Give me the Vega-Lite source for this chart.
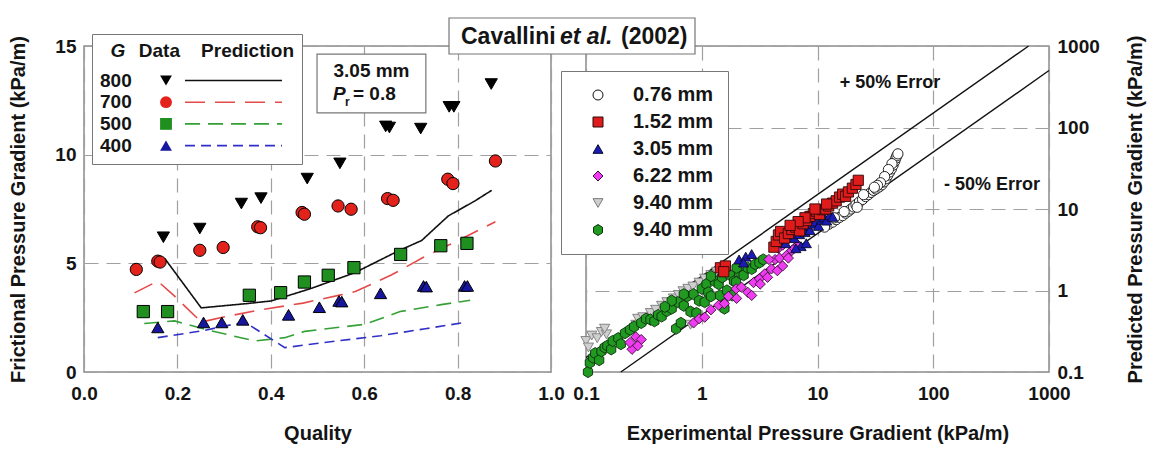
{
  "$schema": "https://vega.github.io/schema/vega-lite/v6.json",
  "padding": {"left": 8, "top": 16, "right": 0, "bottom": 0},
  "bounds": "flush",
  "spacing": 35,
  "resolve": {
    "scale": {"x": "independent", "y": "independent", "fill": "independent", "stroke": "independent", "shape": "independent", "strokeDash": "independent"},
    "legend": {"fill": "independent", "stroke": "independent", "shape": "independent", "strokeDash": "independent"}
  },
  "config": {
    "font": "Liberation Sans",
    "view": {"stroke": "#8c8c8c", "strokeWidth": 1.5},
    "axis": {
      "labelFont": "Liberation Sans", "labelFontSize": 19, "labelFontWeight": "bold", "labelColor": "#141414",
      "titleFont": "Liberation Sans", "titleFontSize": 20, "titleFontWeight": "bold", "titleColor": "#141414",
      "domain": false, "ticks": false, "grid": true, "gridColor": "#a0a0a0", "gridDash": [14, 8], "gridWidth": 1.2,
      "labelFlush": false, "labelOverlap": false
    },
    "legend": {"labelFont": "Liberation Sans", "titleFont": "Liberation Sans"},
    "text": {"font": "Liberation Sans", "color": "#141414"}
  },
  "datasets": {
    "quality_measured": [
      {"G": "800", "quality": 0.17, "gradient": 6.2},
      {"G": "800", "quality": 0.248, "gradient": 6.6},
      {"G": "800", "quality": 0.337, "gradient": 7.75},
      {"G": "800", "quality": 0.379, "gradient": 8.0},
      {"G": "800", "quality": 0.478, "gradient": 8.9},
      {"G": "800", "quality": 0.548, "gradient": 9.6},
      {"G": "800", "quality": 0.646, "gradient": 11.3},
      {"G": "800", "quality": 0.654, "gradient": 11.25},
      {"G": "800", "quality": 0.721, "gradient": 11.2},
      {"G": "800", "quality": 0.782, "gradient": 12.2},
      {"G": "800", "quality": 0.792, "gradient": 12.2},
      {"G": "800", "quality": 0.872, "gradient": 13.25},
      {"G": "700", "quality": 0.112, "gradient": 4.72},
      {"G": "700", "quality": 0.158, "gradient": 5.1},
      {"G": "700", "quality": 0.163, "gradient": 5.06},
      {"G": "700", "quality": 0.248, "gradient": 5.6},
      {"G": "700", "quality": 0.298, "gradient": 5.73},
      {"G": "700", "quality": 0.372, "gradient": 6.68},
      {"G": "700", "quality": 0.378, "gradient": 6.64},
      {"G": "700", "quality": 0.467, "gradient": 7.34},
      {"G": "700", "quality": 0.472, "gradient": 7.26},
      {"G": "700", "quality": 0.544, "gradient": 7.64},
      {"G": "700", "quality": 0.572, "gradient": 7.49},
      {"G": "700", "quality": 0.65, "gradient": 7.98},
      {"G": "700", "quality": 0.662, "gradient": 7.9},
      {"G": "700", "quality": 0.779, "gradient": 8.87},
      {"G": "700", "quality": 0.79, "gradient": 8.67},
      {"G": "700", "quality": 0.881, "gradient": 9.71},
      {"G": "500", "quality": 0.127, "gradient": 2.78},
      {"G": "500", "quality": 0.179, "gradient": 2.78},
      {"G": "500", "quality": 0.354, "gradient": 3.53},
      {"G": "500", "quality": 0.421, "gradient": 3.65},
      {"G": "500", "quality": 0.472, "gradient": 4.14},
      {"G": "500", "quality": 0.523, "gradient": 4.45},
      {"G": "500", "quality": 0.578, "gradient": 4.8},
      {"G": "500", "quality": 0.678, "gradient": 5.41},
      {"G": "500", "quality": 0.764, "gradient": 5.81},
      {"G": "500", "quality": 0.82, "gradient": 5.92},
      {"G": "400", "quality": 0.158, "gradient": 2.05},
      {"G": "400", "quality": 0.256, "gradient": 2.28},
      {"G": "400", "quality": 0.295, "gradient": 2.28},
      {"G": "400", "quality": 0.34, "gradient": 2.4},
      {"G": "400", "quality": 0.438, "gradient": 2.63},
      {"G": "400", "quality": 0.504, "gradient": 2.98},
      {"G": "400", "quality": 0.546, "gradient": 3.27},
      {"G": "400", "quality": 0.552, "gradient": 3.24},
      {"G": "400", "quality": 0.635, "gradient": 3.62},
      {"G": "400", "quality": 0.727, "gradient": 3.96},
      {"G": "400", "quality": 0.733, "gradient": 3.93},
      {"G": "400", "quality": 0.815, "gradient": 3.96},
      {"G": "400", "quality": 0.821, "gradient": 3.96}
    ],
    "quality_prediction": [
      {"G": "800", "quality": 0.173, "gradient": 5.22},
      {"G": "800", "quality": 0.251, "gradient": 2.95},
      {"G": "800", "quality": 0.345, "gradient": 3.14},
      {"G": "800", "quality": 0.401, "gradient": 3.27},
      {"G": "800", "quality": 0.487, "gradient": 3.85},
      {"G": "800", "quality": 0.58, "gradient": 4.57},
      {"G": "800", "quality": 0.673, "gradient": 5.57},
      {"G": "800", "quality": 0.723, "gradient": 6.05},
      {"G": "800", "quality": 0.78, "gradient": 7.18},
      {"G": "800", "quality": 0.837, "gradient": 7.87},
      {"G": "800", "quality": 0.873, "gradient": 8.36},
      {"G": "700", "quality": 0.108, "gradient": 3.64},
      {"G": "700", "quality": 0.158, "gradient": 4.18},
      {"G": "700", "quality": 0.194, "gradient": 3.49},
      {"G": "700", "quality": 0.251, "gradient": 2.3},
      {"G": "700", "quality": 0.304, "gradient": 2.55},
      {"G": "700", "quality": 0.377, "gradient": 2.86},
      {"G": "700", "quality": 0.469, "gradient": 3.17},
      {"G": "700", "quality": 0.55, "gradient": 3.55},
      {"G": "700", "quality": 0.581, "gradient": 3.7},
      {"G": "700", "quality": 0.658, "gradient": 4.46},
      {"G": "700", "quality": 0.727, "gradient": 5.28},
      {"G": "700", "quality": 0.781, "gradient": 5.84},
      {"G": "700", "quality": 0.881, "gradient": 6.91},
      {"G": "500", "quality": 0.129, "gradient": 2.23},
      {"G": "500", "quality": 0.194, "gradient": 2.35},
      {"G": "500", "quality": 0.258, "gradient": 1.97},
      {"G": "500", "quality": 0.365, "gradient": 1.43},
      {"G": "500", "quality": 0.43, "gradient": 1.58},
      {"G": "500", "quality": 0.473, "gradient": 1.87},
      {"G": "500", "quality": 0.6, "gradient": 2.19},
      {"G": "500", "quality": 0.677, "gradient": 2.78},
      {"G": "500", "quality": 0.765, "gradient": 3.1},
      {"G": "500", "quality": 0.827, "gradient": 3.3},
      {"G": "400", "quality": 0.158, "gradient": 1.58},
      {"G": "400", "quality": 0.254, "gradient": 1.9},
      {"G": "400", "quality": 0.344, "gradient": 2.3},
      {"G": "400", "quality": 0.43, "gradient": 1.12},
      {"G": "400", "quality": 0.504, "gradient": 1.33},
      {"G": "400", "quality": 0.581, "gradient": 1.53},
      {"G": "400", "quality": 0.635, "gradient": 1.67},
      {"G": "400", "quality": 0.731, "gradient": 1.99},
      {"G": "400", "quality": 0.819, "gradient": 2.29}
    ],
    "error_bounds": [
      {"band": "+50%", "experimental": 0.1, "predicted": 0.15},
      {"band": "+50%", "experimental": 666.7, "predicted": 1000},
      {"band": "-50%", "experimental": 0.2, "predicted": 0.1},
      {"band": "-50%", "experimental": 1000, "predicted": 500}
    ],
    "tube_data": [
      {"series": "0.76 mm", "experimental": 12.5, "predicted": 6.5},
      {"series": "0.76 mm", "experimental": 13.5, "predicted": 6.9},
      {"series": "0.76 mm", "experimental": 14.5, "predicted": 7.4},
      {"series": "0.76 mm", "experimental": 15.5, "predicted": 7.9},
      {"series": "0.76 mm", "experimental": 16.5, "predicted": 8.3},
      {"series": "0.76 mm", "experimental": 17.5, "predicted": 8.9},
      {"series": "0.76 mm", "experimental": 18.5, "predicted": 9.4},
      {"series": "0.76 mm", "experimental": 19.5, "predicted": 10.0},
      {"series": "0.76 mm", "experimental": 20.5, "predicted": 10.6},
      {"series": "0.76 mm", "experimental": 21.5, "predicted": 11.3},
      {"series": "0.76 mm", "experimental": 23.0, "predicted": 12.2},
      {"series": "0.76 mm", "experimental": 24.5, "predicted": 13.1},
      {"series": "0.76 mm", "experimental": 26.0, "predicted": 14.2},
      {"series": "0.76 mm", "experimental": 27.5, "predicted": 15.0},
      {"series": "0.76 mm", "experimental": 29.0, "predicted": 16.0},
      {"series": "0.76 mm", "experimental": 30.5, "predicted": 16.9},
      {"series": "0.76 mm", "experimental": 32.0, "predicted": 17.6},
      {"series": "0.76 mm", "experimental": 34.0, "predicted": 18.6},
      {"series": "0.76 mm", "experimental": 36.0, "predicted": 19.8},
      {"series": "0.76 mm", "experimental": 37.5, "predicted": 21.5},
      {"series": "0.76 mm", "experimental": 39.0, "predicted": 23.5},
      {"series": "0.76 mm", "experimental": 40.5, "predicted": 26.0},
      {"series": "0.76 mm", "experimental": 42.0, "predicted": 28.5},
      {"series": "0.76 mm", "experimental": 43.5, "predicted": 31.0},
      {"series": "0.76 mm", "experimental": 45.0, "predicted": 34.5},
      {"series": "0.76 mm", "experimental": 46.5, "predicted": 38.5},
      {"series": "0.76 mm", "experimental": 47.5, "predicted": 42.0},
      {"series": "0.76 mm", "experimental": 48.5, "predicted": 45.0},
      {"series": "0.76 mm", "experimental": 49.5, "predicted": 47.5},
      {"series": "0.76 mm", "experimental": 44.0, "predicted": 36.0},
      {"series": "0.76 mm", "experimental": 41.0, "predicted": 30.5},
      {"series": "0.76 mm", "experimental": 38.0, "predicted": 25.0},
      {"series": "0.76 mm", "experimental": 35.0, "predicted": 21.0},
      {"series": "0.76 mm", "experimental": 33.0, "predicted": 19.5},
      {"series": "0.76 mm", "experimental": 31.0, "predicted": 18.5},
      {"series": "0.76 mm", "experimental": 22.0, "predicted": 10.5},
      {"series": "0.76 mm", "experimental": 17.0, "predicted": 9.3},
      {"series": "0.76 mm", "experimental": 14.0, "predicted": 7.8},
      {"series": "0.76 mm", "experimental": 11.5, "predicted": 6.0},
      {"series": "0.76 mm", "experimental": 25.0, "predicted": 15.0},
      {"series": "9.40 mm (a)", "experimental": 0.1, "predicted": 0.24},
      {"series": "9.40 mm (a)", "experimental": 0.105, "predicted": 0.2},
      {"series": "9.40 mm (a)", "experimental": 0.112, "predicted": 0.28},
      {"series": "9.40 mm (a)", "experimental": 0.125, "predicted": 0.26},
      {"series": "9.40 mm (a)", "experimental": 0.136, "predicted": 0.31},
      {"series": "9.40 mm (a)", "experimental": 0.15, "predicted": 0.29},
      {"series": "9.40 mm (a)", "experimental": 0.145, "predicted": 0.34},
      {"series": "9.40 mm (a)", "experimental": 0.28, "predicted": 0.45},
      {"series": "9.40 mm (a)", "experimental": 0.31, "predicted": 0.47},
      {"series": "9.40 mm (a)", "experimental": 0.36, "predicted": 0.53},
      {"series": "9.40 mm (a)", "experimental": 0.4, "predicted": 0.58},
      {"series": "9.40 mm (a)", "experimental": 0.45, "predicted": 0.65},
      {"series": "9.40 mm (a)", "experimental": 0.5, "predicted": 0.72},
      {"series": "9.40 mm (a)", "experimental": 0.57, "predicted": 0.8},
      {"series": "9.40 mm (a)", "experimental": 0.63, "predicted": 0.88},
      {"series": "9.40 mm (a)", "experimental": 0.69, "predicted": 0.98},
      {"series": "9.40 mm (a)", "experimental": 0.76, "predicted": 1.05},
      {"series": "9.40 mm (a)", "experimental": 0.84, "predicted": 1.12},
      {"series": "9.40 mm (a)", "experimental": 0.95, "predicted": 1.25},
      {"series": "9.40 mm (a)", "experimental": 1.06, "predicted": 1.4},
      {"series": "9.40 mm (a)", "experimental": 1.2, "predicted": 1.55},
      {"series": "9.40 mm (a)", "experimental": 1.35, "predicted": 1.7},
      {"series": "9.40 mm (a)", "experimental": 1.57, "predicted": 1.84},
      {"series": "9.40 mm (a)", "experimental": 0.8, "predicted": 0.38},
      {"series": "9.40 mm (a)", "experimental": 0.27, "predicted": 0.38},
      {"series": "9.40 mm (b)", "experimental": 0.104, "predicted": 0.1},
      {"series": "9.40 mm (b)", "experimental": 0.108, "predicted": 0.13},
      {"series": "9.40 mm (b)", "experimental": 0.115, "predicted": 0.15},
      {"series": "9.40 mm (b)", "experimental": 0.12, "predicted": 0.17},
      {"series": "9.40 mm (b)", "experimental": 0.13, "predicted": 0.14},
      {"series": "9.40 mm (b)", "experimental": 0.136, "predicted": 0.18},
      {"series": "9.40 mm (b)", "experimental": 0.145, "predicted": 0.2},
      {"series": "9.40 mm (b)", "experimental": 0.153, "predicted": 0.21},
      {"series": "9.40 mm (b)", "experimental": 0.165, "predicted": 0.19},
      {"series": "9.40 mm (b)", "experimental": 0.17, "predicted": 0.24},
      {"series": "9.40 mm (b)", "experimental": 0.19, "predicted": 0.26},
      {"series": "9.40 mm (b)", "experimental": 0.2, "predicted": 0.22},
      {"series": "9.40 mm (b)", "experimental": 0.217, "predicted": 0.3},
      {"series": "9.40 mm (b)", "experimental": 0.24, "predicted": 0.33},
      {"series": "9.40 mm (b)", "experimental": 0.26, "predicted": 0.36},
      {"series": "9.40 mm (b)", "experimental": 0.3, "predicted": 0.4},
      {"series": "9.40 mm (b)", "experimental": 0.33, "predicted": 0.45},
      {"series": "9.40 mm (b)", "experimental": 0.36, "predicted": 0.44},
      {"series": "9.40 mm (b)", "experimental": 0.39, "predicted": 0.42},
      {"series": "9.40 mm (b)", "experimental": 0.42, "predicted": 0.5},
      {"series": "9.40 mm (b)", "experimental": 0.45, "predicted": 0.48},
      {"series": "9.40 mm (b)", "experimental": 0.5, "predicted": 0.56},
      {"series": "9.40 mm (b)", "experimental": 0.55, "predicted": 0.6},
      {"series": "9.40 mm (b)", "experimental": 0.6, "predicted": 0.34},
      {"series": "9.40 mm (b)", "experimental": 0.62, "predicted": 0.72},
      {"series": "9.40 mm (b)", "experimental": 0.66, "predicted": 0.4},
      {"series": "9.40 mm (b)", "experimental": 0.7, "predicted": 0.65},
      {"series": "9.40 mm (b)", "experimental": 0.75, "predicted": 0.85},
      {"series": "9.40 mm (b)", "experimental": 0.8, "predicted": 0.55},
      {"series": "9.40 mm (b)", "experimental": 0.85, "predicted": 0.9},
      {"series": "9.40 mm (b)", "experimental": 0.9, "predicted": 0.53},
      {"series": "9.40 mm (b)", "experimental": 0.95, "predicted": 0.75},
      {"series": "9.40 mm (b)", "experimental": 1.0, "predicted": 1.05},
      {"series": "9.40 mm (b)", "experimental": 1.06, "predicted": 0.72},
      {"series": "9.40 mm (b)", "experimental": 1.1, "predicted": 1.2},
      {"series": "9.40 mm (b)", "experimental": 1.14, "predicted": 0.95},
      {"series": "9.40 mm (b)", "experimental": 1.2, "predicted": 0.85},
      {"series": "9.40 mm (b)", "experimental": 1.3, "predicted": 1.3},
      {"series": "9.40 mm (b)", "experimental": 1.4, "predicted": 1.2},
      {"series": "9.40 mm (b)", "experimental": 1.44, "predicted": 0.87},
      {"series": "9.40 mm (b)", "experimental": 1.5, "predicted": 1.45},
      {"series": "9.40 mm (b)", "experimental": 1.57, "predicted": 0.6},
      {"series": "9.40 mm (b)", "experimental": 1.65, "predicted": 1.0},
      {"series": "9.40 mm (b)", "experimental": 1.75, "predicted": 1.55},
      {"series": "9.40 mm (b)", "experimental": 1.83, "predicted": 0.87},
      {"series": "9.40 mm (b)", "experimental": 1.9, "predicted": 1.3},
      {"series": "9.40 mm (b)", "experimental": 1.98, "predicted": 1.27},
      {"series": "9.40 mm (b)", "experimental": 2.1, "predicted": 1.7},
      {"series": "9.40 mm (b)", "experimental": 2.3, "predicted": 1.54},
      {"series": "9.40 mm (b)", "experimental": 2.5, "predicted": 1.9},
      {"series": "9.40 mm (b)", "experimental": 2.7, "predicted": 1.84},
      {"series": "9.40 mm (b)", "experimental": 2.9, "predicted": 2.1},
      {"series": "9.40 mm (b)", "experimental": 3.15, "predicted": 2.2},
      {"series": "9.40 mm (b)", "experimental": 3.4, "predicted": 2.4},
      {"series": "9.40 mm (b)", "experimental": 0.7, "predicted": 0.9},
      {"series": "9.40 mm (b)", "experimental": 0.55, "predicted": 0.75},
      {"series": "9.40 mm (b)", "experimental": 1.2, "predicted": 1.5},
      {"series": "9.40 mm (b)", "experimental": 0.48, "predicted": 0.63},
      {"series": "9.40 mm (b)", "experimental": 2.0, "predicted": 1.9},
      {"series": "6.22 mm", "experimental": 0.25, "predicted": 0.19},
      {"series": "6.22 mm", "experimental": 0.24, "predicted": 0.23},
      {"series": "6.22 mm", "experimental": 0.27, "predicted": 0.27},
      {"series": "6.22 mm", "experimental": 0.3, "predicted": 0.25},
      {"series": "6.22 mm", "experimental": 0.28, "predicted": 0.21},
      {"series": "6.22 mm", "experimental": 0.85, "predicted": 0.4},
      {"series": "6.22 mm", "experimental": 0.95, "predicted": 0.45},
      {"series": "6.22 mm", "experimental": 1.06, "predicted": 0.47},
      {"series": "6.22 mm", "experimental": 1.2, "predicted": 0.58},
      {"series": "6.22 mm", "experimental": 1.4, "predicted": 0.66},
      {"series": "6.22 mm", "experimental": 1.57, "predicted": 0.69},
      {"series": "6.22 mm", "experimental": 1.7, "predicted": 0.85},
      {"series": "6.22 mm", "experimental": 1.98, "predicted": 1.05},
      {"series": "6.22 mm", "experimental": 2.0, "predicted": 0.8},
      {"series": "6.22 mm", "experimental": 2.2, "predicted": 1.1},
      {"series": "6.22 mm", "experimental": 2.5, "predicted": 0.95},
      {"series": "6.22 mm", "experimental": 2.7, "predicted": 0.87},
      {"series": "6.22 mm", "experimental": 2.8, "predicted": 1.25},
      {"series": "6.22 mm", "experimental": 3.15, "predicted": 1.39},
      {"series": "6.22 mm", "experimental": 3.2, "predicted": 1.2},
      {"series": "6.22 mm", "experimental": 3.5, "predicted": 1.6},
      {"series": "6.22 mm", "experimental": 3.7, "predicted": 1.45},
      {"series": "6.22 mm", "experimental": 4.0, "predicted": 1.84},
      {"series": "6.22 mm", "experimental": 4.3, "predicted": 2.4},
      {"series": "6.22 mm", "experimental": 4.5, "predicted": 1.75},
      {"series": "6.22 mm", "experimental": 4.7, "predicted": 2.5},
      {"series": "6.22 mm", "experimental": 5.0, "predicted": 2.0},
      {"series": "6.22 mm", "experimental": 5.4, "predicted": 2.7},
      {"series": "6.22 mm", "experimental": 5.6, "predicted": 2.5},
      {"series": "6.22 mm", "experimental": 6.0, "predicted": 3.1},
      {"series": "6.22 mm", "experimental": 6.3, "predicted": 3.3},
      {"series": "6.22 mm", "experimental": 6.8, "predicted": 3.6},
      {"series": "6.22 mm", "experimental": 3.8, "predicted": 2.4},
      {"series": "6.22 mm", "experimental": 4.6, "predicted": 3.3},
      {"series": "6.22 mm", "experimental": 5.0, "predicted": 3.6},
      {"series": "3.05 mm", "experimental": 2.1, "predicted": 2.4},
      {"series": "3.05 mm", "experimental": 2.4, "predicted": 2.6},
      {"series": "3.05 mm", "experimental": 2.7, "predicted": 2.8},
      {"series": "3.05 mm", "experimental": 2.3, "predicted": 2.2},
      {"series": "3.05 mm", "experimental": 4.8, "predicted": 4.0},
      {"series": "3.05 mm", "experimental": 5.0, "predicted": 4.5},
      {"series": "3.05 mm", "experimental": 5.3, "predicted": 3.8},
      {"series": "3.05 mm", "experimental": 5.6, "predicted": 4.8},
      {"series": "3.05 mm", "experimental": 6.0, "predicted": 5.2},
      {"series": "3.05 mm", "experimental": 6.3, "predicted": 4.4},
      {"series": "3.05 mm", "experimental": 6.6, "predicted": 5.6},
      {"series": "3.05 mm", "experimental": 7.0, "predicted": 4.9},
      {"series": "3.05 mm", "experimental": 7.4, "predicted": 5.9},
      {"series": "3.05 mm", "experimental": 7.8, "predicted": 5.2},
      {"series": "3.05 mm", "experimental": 8.2, "predicted": 6.2},
      {"series": "3.05 mm", "experimental": 8.6, "predicted": 5.5},
      {"series": "3.05 mm", "experimental": 9.0, "predicted": 6.6},
      {"series": "3.05 mm", "experimental": 9.6, "predicted": 7.0},
      {"series": "3.05 mm", "experimental": 10.2, "predicted": 6.2},
      {"series": "3.05 mm", "experimental": 10.8, "predicted": 7.4},
      {"series": "3.05 mm", "experimental": 11.4, "predicted": 7.9},
      {"series": "3.05 mm", "experimental": 12.0, "predicted": 7.2},
      {"series": "3.05 mm", "experimental": 12.8, "predicted": 8.4},
      {"series": "3.05 mm", "experimental": 13.5, "predicted": 8.0},
      {"series": "3.05 mm", "experimental": 7.2, "predicted": 3.5},
      {"series": "3.05 mm", "experimental": 8.0, "predicted": 3.8},
      {"series": "3.05 mm", "experimental": 6.5, "predicted": 3.3},
      {"series": "1.52 mm", "experimental": 1.45, "predicted": 1.9},
      {"series": "1.52 mm", "experimental": 1.6, "predicted": 2.0},
      {"series": "1.52 mm", "experimental": 1.55, "predicted": 1.7},
      {"series": "1.52 mm", "experimental": 4.2, "predicted": 3.4},
      {"series": "1.52 mm", "experimental": 4.4, "predicted": 4.0},
      {"series": "1.52 mm", "experimental": 4.6, "predicted": 4.8},
      {"series": "1.52 mm", "experimental": 4.8, "predicted": 5.3},
      {"series": "1.52 mm", "experimental": 5.2, "predicted": 4.4},
      {"series": "1.52 mm", "experimental": 5.6, "predicted": 5.0},
      {"series": "1.52 mm", "experimental": 6.0, "predicted": 5.6},
      {"series": "1.52 mm", "experimental": 6.5, "predicted": 6.0},
      {"series": "1.52 mm", "experimental": 7.0, "predicted": 5.4},
      {"series": "1.52 mm", "experimental": 7.5, "predicted": 6.6},
      {"series": "1.52 mm", "experimental": 8.0, "predicted": 7.2},
      {"series": "1.52 mm", "experimental": 8.6, "predicted": 8.1},
      {"series": "1.52 mm", "experimental": 9.2, "predicted": 8.8},
      {"series": "1.52 mm", "experimental": 9.8, "predicted": 9.4},
      {"series": "1.52 mm", "experimental": 10.4, "predicted": 8.6},
      {"series": "1.52 mm", "experimental": 11.0, "predicted": 9.8},
      {"series": "1.52 mm", "experimental": 11.8, "predicted": 10.0},
      {"series": "1.52 mm", "experimental": 12.5, "predicted": 10.9},
      {"series": "1.52 mm", "experimental": 13.5, "predicted": 11.8},
      {"series": "1.52 mm", "experimental": 14.5, "predicted": 12.6},
      {"series": "1.52 mm", "experimental": 15.5, "predicted": 14.0},
      {"series": "1.52 mm", "experimental": 16.5, "predicted": 15.2},
      {"series": "1.52 mm", "experimental": 17.5, "predicted": 14.3},
      {"series": "1.52 mm", "experimental": 18.5, "predicted": 16.2},
      {"series": "1.52 mm", "experimental": 20.0, "predicted": 18.0},
      {"series": "1.52 mm", "experimental": 21.5, "predicted": 20.0},
      {"series": "1.52 mm", "experimental": 22.5, "predicted": 22.5},
      {"series": "1.52 mm", "experimental": 12.0, "predicted": 11.5},
      {"series": "1.52 mm", "experimental": 9.5, "predicted": 10.0},
      {"series": "1.52 mm", "experimental": 7.8, "predicted": 7.8},
      {"series": "1.52 mm", "experimental": 6.8, "predicted": 7.0},
      {"series": "1.52 mm", "experimental": 5.8, "predicted": 6.3}
    ]
  },
  "hconcat": [
    {
      "width": 467,
      "height": 326,
      "layer": [
        {
          "data": {"name": "quality_prediction"},
          "mark": {"type": "line", "strokeWidth": 1.6},
          "encoding": {
            "x": {
              "field": "quality", "type": "quantitative",
              "scale": {"domain": [0, 1], "nice": false},
              "axis": {"title": "Quality", "values": [0, 0.2, 0.4, 0.6, 0.8, 1], "format": ".1f", "labelPadding": 12, "titlePadding": 20}
            },
            "y": {
              "field": "gradient", "type": "quantitative",
              "scale": {"domain": [0, 15], "nice": false},
              "axis": {"title": "Frictional Pressure Gradient (kPa/m)", "values": [0, 5, 10, 15], "labelPadding": 8, "titlePadding": 26}
            },
            "stroke": {
              "field": "G", "type": "nominal", "sort": "descending",
              "scale": {"range": ["#111111", "#e44a4a", "#35a035", "#3030c8"]},
              "legend": {
                "title": "Data\u00a0\u00a0\u00a0\u00a0Prediction",
                "orient": "none", "legendX": 8, "legendY": -12, "padding": 8,
                "fillColor": "white", "strokeColor": "#777777",
                "titleFontSize": 19, "titleFontWeight": "bold", "titleColor": "#141414", "titlePadding": 10, "titleLimit": 400, "titleAnchor": "end",
                "labelFontSize": 19, "labelExpr": "''",
                "symbolType": "M-8,0H8M9.4,0", "symbolSize": 147, "symbolStrokeWidth": 1.6, "symbolOffset": 124,
                "rowPadding": 1.7, "zindex": 1
              }
            },
            "strokeDash": {
              "field": "G", "type": "nominal", "sort": "descending",
              "scale": {"range": [[1, 0], [20, 10], [15, 8], [10, 6]]},
              "legend": {
                "title": "Data\u00a0\u00a0\u00a0\u00a0Prediction",
                "orient": "none", "legendX": 8, "legendY": -12, "padding": 8,
                "fillColor": "white", "strokeColor": "#777777",
                "titleFontSize": 19, "titleFontWeight": "bold", "titleColor": "#141414", "titlePadding": 10, "titleLimit": 400, "titleAnchor": "end",
                "labelFontSize": 19, "labelExpr": "''",
                "symbolType": "M-8,0H8M9.4,0", "symbolSize": 147, "symbolStrokeWidth": 1.6, "symbolOffset": 124,
                "rowPadding": 1.7, "zindex": 1
              }
            }
          }
        },
        {
          "data": {"name": "quality_measured"},
          "mark": {"type": "point", "filled": true, "stroke": "black", "strokeWidth": 1, "size": 150, "opacity": 1},
          "encoding": {
            "x": {"field": "quality", "type": "quantitative"},
            "y": {"field": "gradient", "type": "quantitative"},
            "fill": {
              "field": "G", "type": "nominal", "sort": "descending",
              "scale": {"range": ["#000000", "#e3231b", "#1f8f1f", "#16169e"]},
              "legend": {
                "title": "\u200b\u00a0\u00a0G",
                "orient": "none", "legendX": 16, "legendY": -4, "padding": 0,
                "titleFontSize": 19, "titleFontWeight": "bold", "titleFontStyle": "italic", "titleColor": "#141414", "titlePadding": 10, "titleLimit": 400,
                "labelFontSize": 19, "labelFontWeight": "bold", "labelColor": "#141414", "labelOffset": -75.5,
                "symbolOffset": 56.5, "symbolSize": 140, "symbolStrokeColor": "black", "symbolStrokeWidth": 1,
                "rowPadding": 1.7, "zindex": 2
              }
            },
            "shape": {
              "field": "G", "type": "nominal", "sort": "descending",
              "scale": {"range": ["triangle-down", "circle", "square", "triangle-up"]},
              "legend": {
                "title": "\u200b\u00a0\u00a0G",
                "orient": "none", "legendX": 16, "legendY": -4, "padding": 0,
                "titleFontSize": 19, "titleFontWeight": "bold", "titleFontStyle": "italic", "titleColor": "#141414", "titlePadding": 10, "titleLimit": 400,
                "labelFontSize": 19, "labelFontWeight": "bold", "labelColor": "#141414", "labelOffset": -75.5,
                "symbolOffset": 56.5, "symbolSize": 140, "symbolStrokeColor": "black", "symbolStrokeWidth": 1,
                "rowPadding": 1.7, "zindex": 2
              }
            }
          }
        },
        {
          "data": {"values": [{}]},
          "mark": {"type": "rect", "fill": "white", "stroke": "#777777", "strokeWidth": 1.2},
          "encoding": {"x": {"datum": 0.499}, "x2": {"datum": 0.732}, "y": {"datum": 14.63}, "y2": {"datum": 11.92}}
        },
        {
          "data": {"values": [{}]},
          "mark": {"type": "text", "text": "3.05 mm", "fontSize": 19, "fontWeight": "bold", "align": "center", "baseline": "middle"},
          "encoding": {"x": {"datum": 0.6156}, "y": {"datum": 13.85}}
        },
        {
          "data": {"values": [{}]},
          "mark": {"type": "text", "text": "P", "fontSize": 19, "fontWeight": "bold", "fontStyle": "italic", "align": "left", "baseline": "middle"},
          "encoding": {"x": {"datum": 0.533}, "y": {"datum": 12.79}}
        },
        {
          "data": {"values": [{}]},
          "mark": {"type": "text", "text": "r", "fontSize": 12, "fontWeight": "bold", "align": "left", "baseline": "middle"},
          "encoding": {"x": {"datum": 0.559}, "y": {"datum": 12.42}}
        },
        {
          "data": {"values": [{}]},
          "mark": {"type": "text", "text": "= 0.8", "fontSize": 19, "fontWeight": "bold", "align": "left", "baseline": "middle"},
          "encoding": {"x": {"datum": 0.576}, "y": {"datum": 12.79}}
        }
      ]
    },
    {
      "width": 463,
      "height": 326,
      "layer": [
        {
          "data": {"name": "error_bounds"},
          "mark": {"type": "line", "color": "#111111", "strokeWidth": 1.4},
          "encoding": {
            "x": {
              "field": "experimental", "type": "quantitative",
              "scale": {"type": "log", "domain": [0.1, 1000], "nice": false},
              "axis": {"title": "Experimental Pressure Gradient (kPa/m)", "values": [0.1, 1, 10, 100, 1000], "format": "~g", "labelPadding": 12, "titlePadding": 20}
            },
            "y": {
              "field": "predicted", "type": "quantitative",
              "scale": {"type": "log", "domain": [0.1, 1000], "nice": false},
              "axis": {"orient": "right", "title": "Predicted Pressure Gradient (kPa/m)", "values": [0.1, 1, 10, 100, 1000], "format": "~g", "labelPadding": 8, "titlePadding": 46, "titleAngle": 270}
            },
            "detail": {"field": "band", "type": "nominal"}
          }
        },
        {
          "data": {"name": "tube_data"},
          "mark": {"type": "point", "filled": true, "size": 105, "strokeWidth": 0.9, "opacity": 1},
          "encoding": {
            "x": {"field": "experimental", "type": "quantitative"},
            "y": {"field": "predicted", "type": "quantitative"},
            "fill": {
              "field": "series", "type": "nominal",
              "scale": {"domain": ["0.76 mm", "1.52 mm", "3.05 mm", "6.22 mm", "9.40 mm (a)", "9.40 mm (b)"], "range": ["#ffffff", "#e01b1b", "#1b1bb5", "#f03cf0", "#cfcfcf", "#209a20"]},
              "legend": {
                "title": null, "orient": "none", "legendX": -25, "legendY": 25, "padding": 14,
                "fillColor": "white", "strokeColor": "#777777",
                "labelFontSize": 20, "labelFontWeight": "bold", "labelColor": "#141414", "labelOffset": 25,
                "labelExpr": "replace(replace(datum.label, ' (a)', ''), ' (b)', '')",
                "symbolOffset": 13, "symbolSize": 100, "symbolStrokeWidth": 1,
                "rowPadding": 7, "zindex": 1
              }
            },
            "stroke": {
              "field": "series", "type": "nominal",
              "scale": {"domain": ["0.76 mm", "1.52 mm", "3.05 mm", "6.22 mm", "9.40 mm (a)", "9.40 mm (b)"], "range": ["#111111", "#2a0a0a", "#0a0a2a", "#3a103a", "#7a7a7a", "#0f2f0f"]},
              "legend": {
                "title": null, "orient": "none", "legendX": -25, "legendY": 25, "padding": 14,
                "fillColor": "white", "strokeColor": "#777777",
                "labelFontSize": 20, "labelFontWeight": "bold", "labelColor": "#141414", "labelOffset": 25,
                "labelExpr": "replace(replace(datum.label, ' (a)', ''), ' (b)', '')",
                "symbolOffset": 13, "symbolSize": 100, "symbolStrokeWidth": 1,
                "rowPadding": 7, "zindex": 1
              }
            },
            "shape": {
              "field": "series", "type": "nominal",
              "scale": {"domain": ["0.76 mm", "1.52 mm", "3.05 mm", "6.22 mm", "9.40 mm (a)", "9.40 mm (b)"], "range": ["circle", "square", "triangle-up", "diamond", "triangle-down", "M0,-1.1L0.9,-0.55L0.9,0.55L0,1.1L-0.9,0.55L-0.9,-0.55Z"]},
              "legend": {
                "title": null, "orient": "none", "legendX": -25, "legendY": 25, "padding": 14,
                "fillColor": "white", "strokeColor": "#777777",
                "labelFontSize": 20, "labelFontWeight": "bold", "labelColor": "#141414", "labelOffset": 25,
                "labelExpr": "replace(replace(datum.label, ' (a)', ''), ' (b)', '')",
                "symbolOffset": 13, "symbolSize": 100, "symbolStrokeWidth": 1,
                "rowPadding": 7, "zindex": 1
              }
            }
          }
        },
        {
          "data": {"values": [{}]},
          "mark": {"type": "text", "text": "+ 50% Error", "fontSize": 18, "fontWeight": "bold", "align": "center", "baseline": "middle"},
          "encoding": {"x": {"datum": 42.3}, "y": {"datum": 355}}
        },
        {
          "data": {"values": [{}]},
          "mark": {"type": "text", "text": "- 50% Error", "fontSize": 18, "fontWeight": "bold", "align": "center", "baseline": "middle"},
          "encoding": {"x": {"datum": 322}, "y": {"datum": 19.7}}
        },
        {
          "data": {"values": [{}]},
          "mark": {"type": "rect", "fill": "white", "stroke": "#777777", "strokeWidth": 1.2},
          "encoding": {"x": {"datum": 0.006553}, "x2": {"datum": 0.8744}, "y": {"datum": 2206}, "y2": {"datum": 797.8}}
        },
        {
          "data": {"values": [{}]},
          "mark": {"type": "text", "text": "Cavallini", "fontSize": 23, "fontWeight": "bold", "align": "left", "baseline": "middle"},
          "encoding": {"x": {"datum": 0.008319}, "y": {"datum": 1290}}
        },
        {
          "data": {"values": [{}]},
          "mark": {"type": "text", "text": "et al.", "fontSize": 23, "fontWeight": "bold", "fontStyle": "italic", "align": "left", "baseline": "middle"},
          "encoding": {"x": {"datum": 0.05963}, "y": {"datum": 1290}}
        },
        {
          "data": {"values": [{}]},
          "mark": {"type": "text", "text": "(2002)", "fontSize": 23, "fontWeight": "bold", "align": "left", "baseline": "middle"},
          "encoding": {"x": {"datum": 0.2006}, "y": {"datum": 1290}}
        }
      ]
    }
  ]
}
